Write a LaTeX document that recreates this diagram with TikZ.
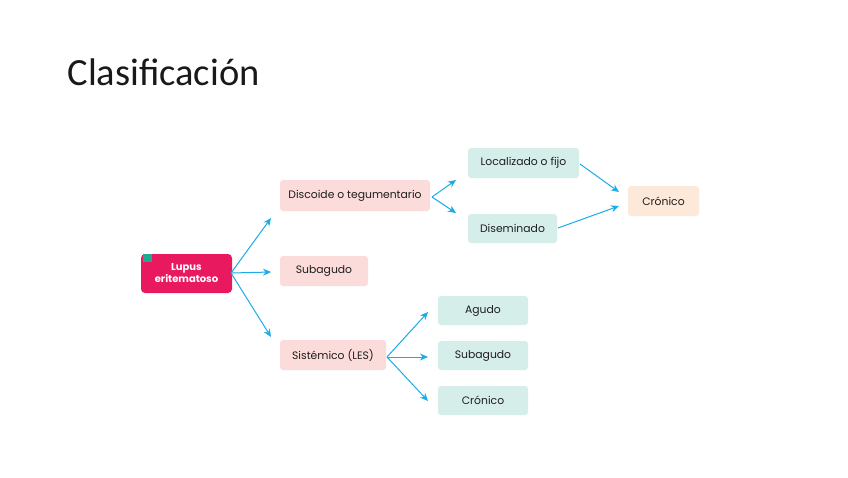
\documentclass[tikz,border=0pt]{standalone}
\usepackage{fontspec}
\setmainfont{Poppins}
\newfontfamily\titlefont{Carlito}
\usetikzlibrary{arrows.meta}
\definecolor{lupus}{HTML}{E8195E}
\definecolor{tabc}{HTML}{1FA98E}
\definecolor{pinkbox}{HTML}{FBDCDA}
\definecolor{tealbox}{HTML}{D6EEEA}
\definecolor{peachbox}{HTML}{FDE9DA}
\definecolor{arrowc}{HTML}{1AACE8}
\definecolor{txt}{HTML}{1E1E1E}
\tikzset{
  box/.style={rounded corners=3pt, inner sep=0pt, font=\fontsize{10.8}{12}\selectfont, text=txt},
  pinkb/.style={box, fill=pinkbox},
  tealb/.style={box, fill=tealbox},
  peachb/.style={box, fill=peachbox},
  arr/.style={draw=arrowc, line width=1pt, -{Stealth[length=8pt,width=7pt]}}
}
\begin{document}
\begin{tikzpicture}[x=1pt,y=-1pt]
\useasboundingbox (0,0) rectangle (848,477);
\fill[white] (0,0) rectangle (848,477);
\node[anchor=base west, font=\titlefont\fontsize{38.5}{44}\selectfont, text=black!90] (title) at (64,85) {Clasificación};

% Lupus
\node[fill=lupus, rounded corners=4pt, minimum width=91pt, minimum height=39pt, text=white, align=center, font=\bfseries\fontsize{10}{12}\selectfont, inner sep=0pt] (lupus) at (186.5,273.5) {Lupus\\eritematoso};
\fill[tabc] (143,254) rectangle (152,262);

% level 1
\node[pinkb, minimum width=150pt, minimum height=31pt] (disc) at (355,195.5) {Discoide o tegumentario};
\node[pinkb, minimum width=88pt, minimum height=30pt] (subp) at (324,271) {Subagudo};
\node[pinkb, minimum width=106pt, minimum height=30pt] (sist) at (333,355) {Sistémico (LES)};

% level 2
\node[tealb, minimum width=111pt, minimum height=30pt] (loc) at (523.5,163) {Localizado o fijo};
\node[tealb, minimum width=89pt, minimum height=29pt] (dis) at (512.5,228.5) {Diseminado};
\node[peachb, minimum width=71pt, minimum height=30pt] (cron) at (663.5,201) {Crónico};
\node[tealb, minimum width=90pt, minimum height=29pt] (agu) at (483,310.5) {Agudo};
\node[tealb, minimum width=90pt, minimum height=29pt] (suba) at (483,355.5) {Subagudo};
\node[tealb, minimum width=90pt, minimum height=29pt] (cro2) at (483,400.5) {Crónico};

% connector ends
\coordinate (l0) at (231,273);
\coordinate (t1) at (271,218);
\coordinate (t2) at (271,272);
\coordinate (t3) at (271,337);
\coordinate (d0) at (432,197);
\coordinate (t4) at (456,180);
\coordinate (t5) at (456,213);
\coordinate (s0) at (387,357);
\coordinate (t6) at (428,312);
\coordinate (t7) at (428,357);
\coordinate (t8) at (428,401);
\coordinate (c1) at (580,164);
\coordinate (c2) at (558,228);
\coordinate (t9) at (619,192);
\coordinate (t10) at (619,206);

\draw[arr] (l0) -- (t1);
\draw[arr] (l0) -- (t2);
\draw[arr] (l0) -- (t3);
\draw[arr] (d0) -- (t4);
\draw[arr] (d0) -- (t5);
\draw[arr] (s0) -- (t6);
\draw[arr] (s0) -- (t7);
\draw[arr] (s0) -- (t8);
\draw[arr] (c1) -- (t9);
\draw[arr] (c2) -- (t10);
\end{tikzpicture}
\end{document}
